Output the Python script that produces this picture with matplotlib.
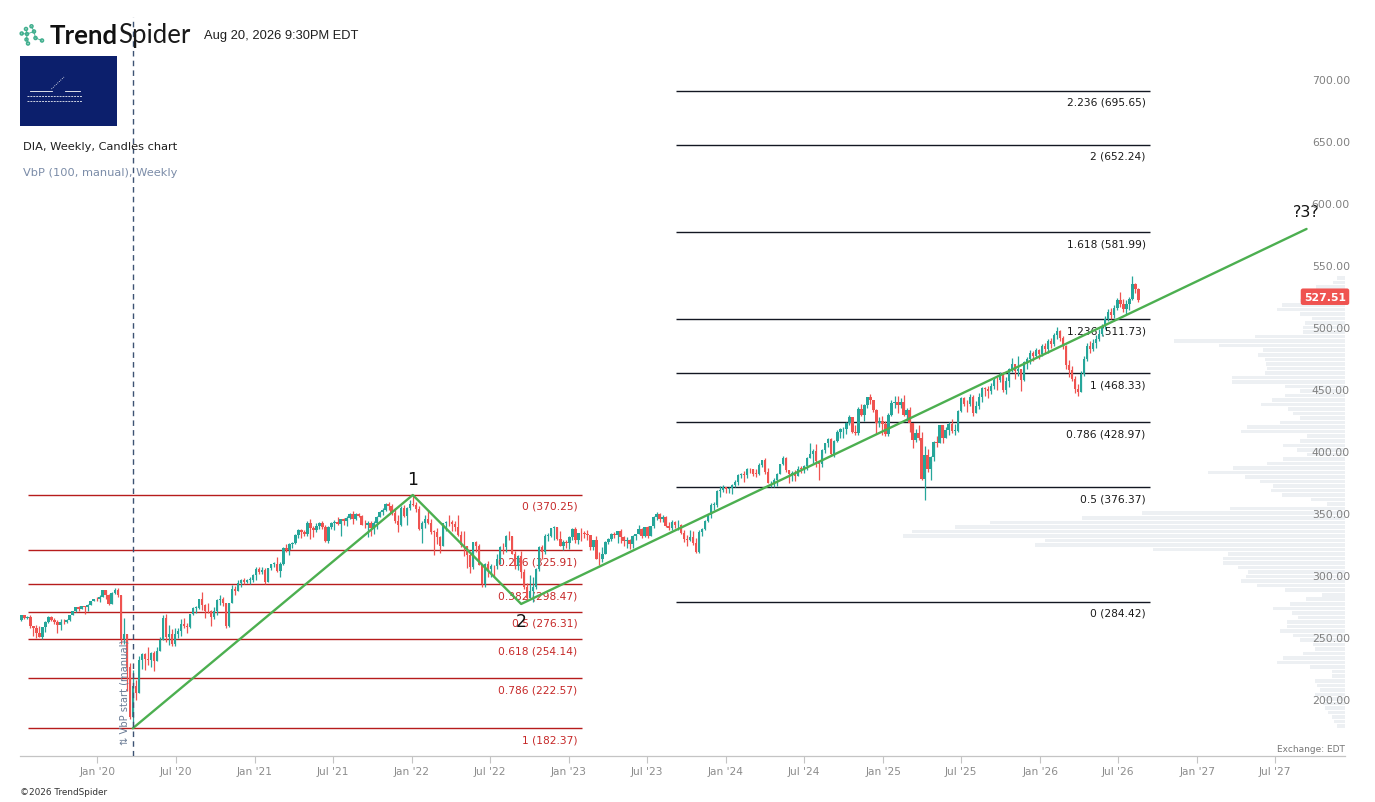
import numpy as np
import pandas as pd
import matplotlib
matplotlib.use("Agg")
import matplotlib.pyplot as plt
import matplotlib.dates as mdates
from matplotlib.patches import Rectangle, Circle
from matplotlib.lines import Line2D

plt.rcParams['font.family'] = ['DejaVu Sans']

W, H = 1375, 803

# ------------------------------------------------------------------ data
first_date = "2019-07-08"          # first weekly candle (week start)
first_open = 269.9

close_2019 = [273.3, 271.5, 271.9, 264.9, 262.9, 258.9, 256.3, 264.0, 268.0, 272.2, 269.3, 268.2, 265.7,
              268.2, 267.7, 269.6, 273.5, 276.8, 280.0, 278.8, 280.5, 280.2, 281.3, 284.6, 286.5, 286.3]
high_2019 = [273.6, 273.9, 273.0, 273.3, 265.0, 265.5, 264.5, 264.3, 268.5, 272.8, 272.6, 271.0, 269.6,
             270.6, 270.6, 270.5, 273.9, 277.0, 280.2, 280.5, 281.2, 280.9, 282.7, 285.0, 286.9, 288.3]
low_2019 = [268.9, 270.6, 270.2, 262.9, 257.0, 254.7, 255.8, 254.6, 260.0, 267.2, 268.5, 266.6, 259.5,
            261.6, 266.3, 266.8, 268.4, 273.8, 275.7, 277.1, 278.9, 274.8, 277.0, 281.5, 284.8, 284.6]

close_2020 = [288.2, 293.5, 289.9, 282.6, 291.0, 294.0, 289.9, 254.1, 258.6, 231.9, 191.7, 216.4, 210.5,
              237.2, 242.4, 237.8, 237.2, 243.3, 236.9, 244.7, 253.8, 271.1, 256.1, 258.7, 250.2, 258.3,
              260.8, 266.7, 264.7, 264.3, 274.3, 279.3, 279.3, 286.5, 281.3, 276.7, 276.6, 271.7, 276.8,
              285.9, 286.1, 283.4, 265.0, 283.2, 294.8, 292.6, 299.1, 302.2, 300.5, 301.8, 302.0, 306.1]
high_2020 = [289.5, 293.5, 294.0, 290.5, 292.2, 295.7, 295.2, 289.2, 271.2, 258.0, 235.0, 229.5, 221.6,
             241.0, 243.0, 243.1, 247.6, 244.0, 244.6, 248.0, 256.0, 273.5, 274.8, 265.2, 262.0, 262.8,
             263.5, 270.7, 270.9, 267.0, 274.6, 279.8, 281.0, 286.9, 292.0, 282.3, 283.1, 277.6, 280.4,
             286.1, 290.0, 288.2, 282.0, 283.2, 298.0, 297.0, 302.0, 302.4, 303.6, 303.0, 304.0, 306.6]
low_2020 = [284.0, 288.0, 286.9, 281.9, 282.8, 290.2, 288.5, 250.2, 250.4, 212.8, 189.9, 182.37, 205.4,
            215.5, 229.8, 229.6, 233.0, 231.4, 228.9, 241.6, 245.9, 253.9, 251.5, 249.8, 248.9, 248.7,
            254.8, 257.0, 262.9, 258.8, 262.8, 273.4, 274.9, 278.1, 277.6, 271.0, 274.9, 264.8, 270.0,
            273.6, 282.0, 280.5, 263.1, 263.9, 288.9, 290.0, 293.3, 295.9, 298.5, 299.6, 298.9, 300.5]

close_2021 = [311.0, 308.1, 310.0, 299.8, 311.5, 314.6, 314.9, 309.3, 315.0, 327.8, 326.3, 330.7, 331.5,
              338.0, 342.0, 340.4, 338.7, 347.8, 343.8, 342.1, 345.3, 347.6, 344.8, 332.9, 344.3, 347.9,
              348.7, 346.9, 350.6, 349.4, 352.1, 355.2, 351.2, 354.6, 353.7, 346.1, 345.8, 348.0, 343.3,
              347.5, 352.9, 356.8, 358.2, 363.3, 361.0, 356.0, 349.0, 345.8, 359.7, 353.7, 359.5, 363.4]
high_2021 = [312.2, 311.9, 312.0, 311.6, 311.8, 314.8, 316.5, 320.4, 316.5, 328.5, 331.0, 331.5, 332.2,
             338.7, 342.6, 342.6, 342.3, 349.0, 350.8, 345.0, 347.3, 348.7, 349.0, 346.0, 345.0, 348.4,
             350.0, 352.2, 351.0, 352.0, 353.0, 355.5, 357.4, 355.5, 356.0, 354.1, 349.8, 349.0, 349.1,
             349.5, 353.1, 357.5, 359.8, 364.0, 364.6, 363.2, 359.8, 354.1, 361.3, 362.3, 360.4, 366.3]
low_2021 = [301.6, 307.0, 306.5, 298.6, 300.2, 310.0, 312.0, 308.5, 304.5, 314.0, 324.0, 321.7, 327.5,
            330.9, 336.0, 335.4, 337.5, 337.5, 335.0, 336.6, 340.1, 342.8, 342.6, 332.6, 331.4, 342.5,
            342.0, 346.4, 337.5, 346.2, 345.6, 351.0, 346.9, 350.4, 352.5, 346.0, 343.7, 336.5, 337.6,
            338.6, 342.9, 352.7, 354.5, 357.7, 358.0, 354.3, 347.8, 340.2, 345.6, 352.8, 345.8, 358.4]

close_2022 = [362.3, 359.1, 342.7, 347.3, 350.9, 347.4, 340.8, 340.6, 336.2, 329.4, 347.6, 348.6, 348.2,
              347.2, 344.5, 338.1, 329.8, 329.0, 322.0, 312.6, 332.1, 329.0, 313.9, 298.9, 315.0, 311.0,
              313.4, 312.9, 319.0, 328.5, 328.0, 337.6, 337.1, 322.8, 313.2, 321.5, 308.2, 295.9, 287.3,
              293.0, 296.3, 310.8, 328.6, 324.0, 337.5, 337.5, 343.5, 344.3, 334.8, 329.2, 332.0, 331.5]
high_2022 = [370.25, 364.8, 361.5, 349.5, 354.0, 358.0, 351.0, 342.3, 343.3, 337.0, 348.0, 349.0, 353.9,
             350.4, 349.0, 354.5, 341.2, 340.9, 329.5, 324.5, 332.2, 333.3, 331.0, 314.0, 315.3, 317.0,
             314.7, 314.2, 323.0, 329.1, 331.2, 338.0, 341.0, 336.4, 324.8, 322.2, 325.4, 310.8, 299.4,
             305.6, 304.4, 311.5, 329.0, 330.0, 338.8, 340.0, 343.8, 345.0, 343.3, 341.2, 334.0, 333.9]
low_2022 = [361.0, 356.2, 341.9, 331.4, 344.0, 346.5, 339.0, 321.8, 330.5, 323.7, 329.5, 341.5, 345.0,
            341.6, 341.3, 337.5, 328.3, 321.3, 311.2, 307.8, 311.0, 324.4, 313.7, 296.0, 296.4, 304.5,
            304.3, 304.0, 311.0, 315.0, 323.0, 324.6, 334.0, 322.5, 311.0, 310.1, 303.7, 294.9, 286.0,
            287.2, 284.42, 294.6, 309.4, 318.9, 322.7, 333.0, 336.3, 334.4, 334.2, 328.8, 325.8, 327.5]

close_2023 = [336.3, 343.0, 333.8, 339.8, 339.3, 338.7, 338.3, 328.2, 333.9, 319.1, 318.6, 322.4, 332.7,
              334.9, 338.9, 338.1, 341.0, 336.7, 333.0, 334.3, 330.9, 337.6, 338.8, 343.0, 337.3, 344.1,
              337.3, 345.1, 352.3, 354.6, 350.7, 352.8, 345.0, 343.5, 348.4, 345.8, 346.2, 339.6, 335.1,
              334.1, 336.7, 331.3, 324.2, 340.6, 342.8, 349.5, 353.9, 362.5, 362.5, 373.1, 373.9, 376.9]
high_2023 = [337.5, 343.5, 344.3, 340.0, 343.5, 341.3, 342.4, 335.4, 334.0, 337.0, 324.4, 328.2, 332.9,
             336.0, 340.0, 340.6, 341.3, 342.6, 337.5, 336.3, 334.6, 338.0, 339.0, 345.9, 343.3, 344.3,
             344.9, 345.2, 353.6, 356.3, 355.9, 354.2, 353.6, 348.8, 350.2, 349.0, 350.0, 347.2, 341.8,
             338.4, 341.9, 341.5, 335.8, 341.8, 343.9, 350.4, 355.0, 363.5, 364.8, 374.6, 377.3, 378.0]
low_2023 = [326.9, 333.9, 331.4, 331.0, 333.0, 335.4, 334.0, 326.1, 325.8, 318.9, 313.8, 316.2, 322.4,
            331.0, 333.2, 336.0, 331.4, 331.9, 328.9, 327.7, 326.6, 327.2, 334.3, 338.5, 336.0, 336.4,
            335.9, 337.0, 343.9, 350.3, 348.2, 348.6, 344.8, 341.7, 342.1, 343.4, 342.2, 338.8, 332.4,
            329.5, 333.2, 329.8, 323.4, 323.3, 337.0, 342.0, 348.4, 352.1, 358.5, 360.7, 368.6, 372.8]

close_2024 = [374.7, 375.9, 378.6, 381.1, 386.5, 386.7, 386.3, 391.3, 390.9, 387.2, 387.1, 394.8, 398.1,
              389.0, 379.8, 379.9, 382.4, 386.8, 395.1, 400.0, 390.7, 386.9, 388.0, 385.9, 391.5, 391.2,
              393.8, 400.0, 402.9, 405.9, 397.4, 395.0, 406.6, 411.8, 415.6, 403.5, 413.9, 420.6, 423.1,
              423.5, 428.6, 432.8, 421.1, 420.5, 439.9, 434.4, 443.0, 449.1, 446.4, 438.3, 428.4, 429.9,
              427.3]
high_2024 = [377.0, 377.0, 379.0, 382.6, 387.0, 388.0, 389.5, 392.0, 391.8, 391.4, 391.0, 395.7, 398.1,
             399.8, 391.8, 381.9, 384.1, 388.0, 395.3, 401.7, 401.0, 388.6, 389.3, 390.0, 393.8, 393.9,
             394.3, 401.0, 412.5, 407.0, 411.5, 395.5, 407.1, 412.0, 416.2, 415.9, 414.4, 422.6, 424.0,
             425.0, 429.3, 435.0, 433.0, 426.5, 441.0, 443.9, 443.9, 449.5, 451.3, 446.7, 439.7, 433.1,
             434.2]
low_2024 = [371.7, 372.0, 371.0, 377.0, 378.0, 384.0, 380.5, 383.6, 388.0, 385.5, 385.0, 386.0, 393.2,
            387.5, 379.6, 376.4, 376.5, 377.8, 386.8, 394.4, 388.6, 380.2, 381.7, 381.9, 385.5, 387.7,
            387.9, 390.6, 401.0, 395.7, 392.9, 382.3, 392.6, 404.2, 409.0, 402.0, 400.5, 412.6, 416.5,
            416.0, 419.7, 426.5, 420.0, 418.6, 418.7, 433.5, 430.2, 440.0, 443.7, 437.0, 419.1, 425.0,
            418.4]

close_2025 = [419.4, 434.9, 444.2, 445.4, 443.0, 445.5, 434.3, 438.4, 428.0, 414.9, 419.9, 415.8, 383.2,
              402.1, 391.4, 401.1, 413.2, 412.5, 426.6, 416.0, 422.7, 427.6, 422.0, 422.1, 438.2, 448.3,
              443.7, 443.4, 449.0, 435.9, 441.8, 449.5, 456.3, 455.4, 454.0, 458.3, 463.2, 462.5, 467.6,
              454.8, 461.9, 472.1, 475.6, 469.9, 471.5, 462.5, 477.2, 479.6, 484.6, 482.0, 487.0, 484.0]
high_2025 = [430.0, 436.0, 446.5, 449.6, 450.0, 448.0, 450.6, 440.0, 441.0, 428.5, 423.5, 427.0, 421.0,
             409.6, 407.0, 402.0, 414.0, 418.0, 427.0, 426.7, 425.0, 429.0, 431.8, 427.6, 438.6, 449.0,
             449.0, 447.0, 451.2, 451.0, 446.0, 452.3, 457.6, 457.0, 458.2, 460.4, 464.5, 465.0, 469.5,
             469.7, 465.5, 472.5, 480.8, 476.0, 482.5, 471.0, 478.0, 481.0, 487.0, 486.5, 488.5, 488.0]
low_2025 = [417.6, 418.0, 434.0, 440.0, 436.4, 440.6, 433.5, 430.0, 421.0, 408.3, 412.6, 414.2, 382.0,
            366.3, 389.0, 382.5, 397.3, 408.8, 416.8, 412.0, 416.0, 418.7, 420.5, 418.5, 421.0, 437.0,
            441.8, 437.0, 442.0, 434.0, 436.1, 439.8, 445.4, 450.0, 448.2, 451.8, 456.0, 454.7, 461.0,
            453.5, 451.9, 457.0, 469.0, 463.8, 466.0, 454.0, 462.0, 472.0, 476.0, 478.0, 480.5, 480.0]

close_2026 = [490, 488, 494, 492, 499, 502, 497, 490, 475, 471, 464, 456, 453, 468, 480, 490, 488, 493,
              496, 500, 506, 512, 518, 515, 521, 527, 524, 520, 524, 528, 540, 536, 527.51]
high_2026 = [492, 493, 496, 497, 501, 505.5, 503, 498, 491, 479, 474, 466, 460, 470, 482, 493, 494, 496,
             499, 504, 508, 514, 520, 521, 523, 529, 533.5, 528, 527, 530, 547, 541, 537]
low_2026 = [482, 485, 485, 489, 490, 496, 494, 488, 472, 465, 462, 452, 450, 453, 466, 478, 485, 486,
            489, 494, 498, 504, 510, 512, 513, 519, 522, 518, 516, 519, 527, 533, 526]

# Volume-by-price (100 rows), listed from the top price row down to the bottom row
vbp_volume_top_down = [8, 12, 29, 35, 40, 45, 63, 68, 45, 33, 40, 42, 42, 90, 171, 126, 82, 87, 80, 79,
                       78, 80, 113, 113, 60, 45, 60, 73, 84, 57, 52, 45, 65, 98, 104, 38, 45, 62, 48, 38,
                       62, 78, 112, 137, 100, 85, 72, 74, 63, 34, 18, 115, 203, 263, 355, 390, 433, 442, 300, 310,
                       192, 117, 122, 122, 107, 97, 99, 104, 88, 60, 23, 39, 55, 72, 53, 47, 58, 58, 65, 52,
                       45, 32, 30, 42, 62, 68, 35, 13, 13, 30, 28, 25, 30, 22, 22, 20, 17, 13, 11, 8]
vbp_start = "2020-03-23"

fib_left_levels = ["0", "0.236", "0.382", "0.5", "0.618", "0.786", "1"]
fib_left_values = [370.25, 325.91, 298.47, 276.31, 254.14, 222.57, 182.37]
fib_left_span = ("2019-07-23", "2023-02-01")
fib_right_levels = ["0", "0.5", "0.786", "1", "1.236", "1.618", "2", "2.236"]
fib_right_values = [284.42, 376.37, 428.97, 468.33, 511.73, 581.99, 652.24, 695.65]
fib_right_span = ("2023-09-06", "2026-09-12")

wave_dates = ["2020-03-23", "2022-01-03", "2022-09-12", "2027-09-12"]
wave_prices = [182.37, 370.25, 282.5, 584.5]
wave_labels = ["", "1", "2", "?3?"]

price_ticks = [200, 250, 300, 350, 400, 450, 500, 550, 600, 650, 700]
last_price = 527.51

# ------------------------------------------------------------------ assemble candles
close = np.array(close_2019 + close_2020 + close_2021 + close_2022 + close_2023 + close_2024 + close_2025 + close_2026, float)
high = np.array(high_2019 + high_2020 + high_2021 + high_2022 + high_2023 + high_2024 + high_2025 + high_2026, float)
low = np.array(low_2019 + low_2020 + low_2021 + low_2022 + low_2023 + low_2024 + low_2025 + low_2026, float)
opens = np.concatenate([[first_open], close[:-1]])
high = np.maximum(high, np.maximum(opens, close))
low = np.minimum(low, np.minimum(opens, close))
dates = pd.date_range(first_date, periods=len(close), freq="7D")
xd = mdates.date2num(dates)

GREEN, RED = '#26a69a', '#ef5350'
cols = np.where(close >= opens, GREEN, RED)

# ------------------------------------------------------------------ figure / axes
fig = plt.figure(figsize=(W / 100, H / 100), dpi=100, facecolor='white')
def fx(x): return x / W
def fy(y): return 1 - y / H

AX_L, AX_R, AX_T, AX_B = 20, 1345, 18, 757
ax = fig.add_axes([fx(AX_L), fy(AX_B), (AX_R - AX_L) / W, (AX_B - AX_T) / H])

# date scale: Jan 1 2020 sits at x=97.5 px, 157.1 px per year
origin = mdates.date2num(pd.Timestamp("2020-01-01"))
ppd = 157.1 / 365.25
ax.set_xlim(origin - (97.5 - AX_L) / ppd, origin + (AX_R - 97.5) / ppd)
# price scale: 370.25 at y=496 px, 1.2418 px per dollar
ppu = 1.2418
ax.set_ylim(370.25 - (AX_B - 496) / ppu, 370.25 + (496 - AX_T) / ppu)

# volume profile on a twin axis behind the candles
vax = ax.twiny()
vax.set_zorder(1)
ax.set_zorder(2)
ax.patch.set_visible(False)
vax.axis('off')
i0 = int(np.searchsorted(dates, pd.Timestamp(vbp_start)))
vb_lo, vb_hi = low[i0:].min(), high[i0:].max()
vols = np.array(vbp_volume_top_down[::-1], float)
edges = np.linspace(vb_lo, vb_hi, len(vols) + 1)
centers = (edges[:-1] + edges[1:]) / 2
vax.barh(centers, vols, height=(edges[1] - edges[0]) * 0.78, left=0, color='#edf0f3', linewidth=0)
vax.set_xlim(vols.max() / 0.3336, 0)

# fib retracements / extensions
d0, d1 = mdates.date2num(pd.Timestamp(fib_left_span[0])), mdates.date2num(pd.Timestamp(fib_left_span[1]))
ax.hlines(fib_left_values, d0, d1, colors='#b71c1c', lw=1.0, zorder=2)
for lv, v in zip(fib_left_levels, fib_left_values):
    ax.annotate(f"{lv} ({v:.2f})", xy=(d1, v), xytext=(-5, -11), textcoords='offset pixels',
                ha='right', va='center', fontsize=7.7, color='#c62828', zorder=2.5)
e0, e1 = mdates.date2num(pd.Timestamp(fib_right_span[0])), mdates.date2num(pd.Timestamp(fib_right_span[1]))
ax.hlines(fib_right_values, e0, e1, colors='#131722', lw=1.0, zorder=2)
for lv, v in zip(fib_right_levels, fib_right_values):
    ax.annotate(f"{lv} ({v:.2f})", xy=(e1, v), xytext=(-4, -11), textcoords='offset pixels',
                ha='right', va='center', fontsize=7.7, color='#1a1a1a', zorder=2.5)

# candles
ax.vlines(xd, low, high, colors=cols, lw=0.9, zorder=3)
body_lo = np.minimum(opens, close)
body_h = np.maximum(np.abs(close - opens), 0.5)
ax.bar(xd, body_h, bottom=body_lo, width=5.6, color=cols, linewidth=0, zorder=3.1)

# elliott wave line
wx = mdates.date2num(pd.to_datetime(wave_dates))
ax.plot(wx, wave_prices, color='#4caf50', lw=1.7, zorder=4, solid_capstyle='round')
wave_offsets = [(0, 0), (0, 16), (0, -17), (0, 17)]
for x_, y_, t, off in zip(wx, wave_prices, wave_labels, wave_offsets):
    if t:
        ax.annotate(t, xy=(x_, y_), xytext=off, textcoords='offset pixels', ha='center', va='center',
                    fontsize=12.5 if len(t) == 1 else 11.5, color='#111111', zorder=5)

# VbP start marker
vsx = mdates.date2num(pd.Timestamp(vbp_start))
ax.axvline(vsx, color='#3d5273', lw=1.0, ls=(0, (4, 3)), zorder=5)
ax.annotate("⇅ VbP start (manual)", xy=(vsx, 0), xycoords=('data', 'axes fraction'), xytext=(-8, 12),
            textcoords='offset pixels', rotation=90, ha='center', va='bottom', fontsize=7.2,
            color='#6b7c96', zorder=5)

# axes styling
for s in ['top', 'right', 'left']:
    ax.spines[s].set_visible(False)
ax.spines['bottom'].set_color('#c4c4c4')
ax.spines['bottom'].set_linewidth(0.9)
ax.set_yticks([])
tick_dates = pd.date_range("2020-01-01", "2027-07-01", freq="6MS")
ax.set_xticks(mdates.date2num(tick_dates))
ax.set_xticklabels([d.strftime("%b '%y") for d in tick_dates])
ax.tick_params(axis='x', direction='out', length=5, width=0.8, color='#c4c4c4',
               labelsize=7.7, labelcolor='#8c8c8c', pad=2)

for v in price_ticks:
    ax.annotate(f"{v:.2f}", xy=(1, v), xycoords=('axes fraction', 'data'), xytext=(5, 1),
                textcoords='offset pixels', ha='right', va='bottom', fontsize=7.8, color='#808080', zorder=6)

ax.annotate(f"{last_price:.2f}", xy=(1, last_price), xycoords=('axes fraction', 'data'), xytext=(1, 3),
            textcoords='offset pixels', ha='right', va='center', fontsize=7.8, color='white',
            fontweight='bold', zorder=7,
            bbox=dict(boxstyle='round,pad=0.3,rounding_size=0.2', fc='#ef5350', ec='none'))

# ------------------------------------------------------------------ header / footer
lax = fig.add_axes([fx(17), fy(48), 30 / W, 26 / H], zorder=10)
lax.set_xlim(17, 47)
lax.set_ylim(48, 22)
lax.axis('off')
nodes = [(21.7, 34.5), (26, 30), (27, 35), (26.5, 40.5), (28, 44.5), (31.5, 27.3), (34, 32.5),
         (35.5, 39), (42, 41.5)]
links = [(0, 2), (1, 2), (2, 3), (3, 4), (2, 6), (5, 6), (6, 7), (7, 8)]
for a, b in links:
    lax.plot([nodes[a][0], nodes[b][0]], [nodes[a][1], nodes[b][1]], color='#3fae8d', lw=0.6)
for (cx, cy) in nodes:
    lax.add_patch(Circle((cx, cy), 1.5, fc='white', ec='#3fae8d', lw=1.1))

t1 = fig.text(fx(50), fy(36), "Trend", fontsize=18.5, fontweight='bold', family=['Lato', 'DejaVu Sans'],
              color='#111111', va='center', ha='left', zorder=10)
fig.canvas.draw()
bb = t1.get_window_extent()
fig.text(bb.x1 / W + 0.5 / W, fy(36), "Spider", fontsize=18.5, fontweight='normal',
         family=['Lato', 'DejaVu Sans'], color='#1a1a1a', va='center', ha='left', zorder=10)
fig.text(fx(204), fy(36), "Aug 20, 2026 9:30PM EDT", fontsize=9.3, family=['Liberation Sans', 'DejaVu Sans'],
         color='#1e1e1e', va='center', ha='left', zorder=10)

fig.patches.append(Rectangle((fx(20), fy(127)), 97 / W, 70 / H, transform=fig.transFigure,
                             fc='#0c1f6c', ec='none', zorder=10))
for (x0, x1_, y_) in [(30, 52, 91.5), (65, 80, 91.5)]:
    fig.lines.append(Line2D([fx(x0), fx(x1_)], [fy(y_), fy(y_)], transform=fig.transFigure,
                            color='white', lw=0.6, zorder=11))
fig.lines.append(Line2D([fx(51.5), fx(64)], [fy(90), fy(78)], transform=fig.transFigure,
                        color='white', lw=0.6, ls=(0, (1, 1.5)), zorder=11))
for y_ in (97, 101.5):
    fig.lines.append(Line2D([fx(27), fx(82)], [fy(y_), fy(y_)], transform=fig.transFigure,
                            color='white', lw=0.7, ls=(0, (2, 1)), alpha=0.8, zorder=11))

fig.text(fx(23), fy(147), "DIA, Weekly, Candles chart", fontsize=8.2, color='#1e1e1e',
         va='center', ha='left', zorder=10)
fig.text(fx(23), fy(173), "VbP (100, manual), Weekly", fontsize=8.2, color='#7b8ca8',
         va='center', ha='left', zorder=10)
fig.text(fx(1345), fy(750), "Exchange: EDT", fontsize=6.5, color='#777777', va='center', ha='right', zorder=10)
fig.text(fx(20), fy(793), "©2026 TrendSpider", fontsize=6.4, color='#333333', va='center', ha='left', zorder=10)

fig.savefig("out.png", dpi=100, facecolor='white')
